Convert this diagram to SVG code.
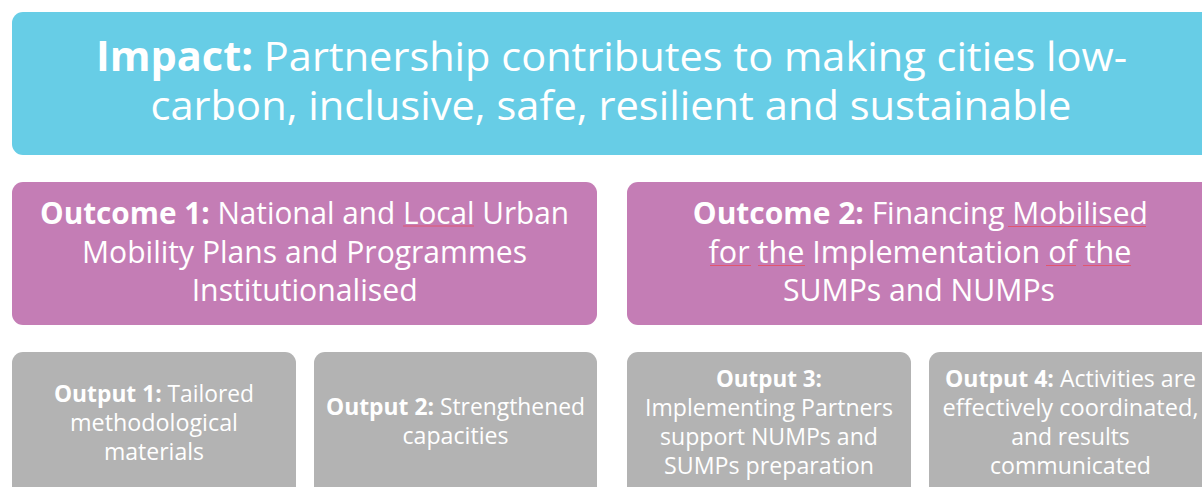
<svg xmlns="http://www.w3.org/2000/svg" width="1202" height="487" viewBox="0 0 1202 487">
<style>
.impact{fill:#67CDE6}
.outcome{fill:#C47DB5}
.output{fill:#B3B3B3}
text{font-family:"Open Sans","Noto Sans","DejaVu Sans",sans-serif;fill:#FFFFFF;text-anchor:middle}
.t1{font-size:41px}
.t2{font-size:31px}
.t3{font-size:23.5px}
.b{font-weight:700}
.sq{stroke:#E2566E;stroke-width:1;fill:none}
</style>
<rect width="1202" height="487" fill="#FFFFFF"/>
<g id="connectors"></g>
<g id="impact">
<rect class="impact" x="12" y="12" width="1200" height="143" rx="11"/>
<text class="t1" x="611.5" y="71" textLength="1031" lengthAdjust="spacingAndGlyphs"><tspan class="b">Impact:</tspan> Partnership contributes to making cities low-</text>
<text class="t1" x="611" y="120" textLength="921" lengthAdjust="spacingAndGlyphs">carbon, inclusive, safe, resilient and sustainable</text>
</g>
<g id="outcome1">
<rect class="outcome" x="12" y="182" width="585" height="143" rx="11"/>
<text class="t2" x="304.5" y="223.5" textLength="529" lengthAdjust="spacingAndGlyphs"><tspan class="b">Outcome 1:</tspan> National and Local Urban</text>
<text class="t2" x="304.5" y="262.5" textLength="445" lengthAdjust="spacingAndGlyphs">Mobility Plans and Programmes</text>
<text class="t2" x="304.7" y="300.5" textLength="226" lengthAdjust="spacingAndGlyphs">Institutionalised</text>
<path class="sq" d="M403 226 H474"/>
</g>
<g id="outcome2">
<rect class="outcome" x="627" y="182" width="586" height="143" rx="11"/>
<text class="t2" x="920.3" y="224" textLength="455" lengthAdjust="spacingAndGlyphs"><tspan class="b">Outcome 2:</tspan> Financing Mobilised</text>
<text class="t2" x="920" y="263" textLength="423" lengthAdjust="spacingAndGlyphs">for the Implementation of the</text>
<text class="t2" x="919" y="300.5" textLength="272" lengthAdjust="spacingAndGlyphs">SUMPs and NUMPs</text>
<path class="sq" d="M1008 226.5 H1146 M710 265.5 H751 M758 265.5 H805 M1046 265.5 H1076 M1083 265.5 H1131"/>
</g>
<g id="output1">
<rect class="output" x="12" y="352" width="284" height="160" rx="11"/>
<text class="t3" x="154" y="401.5" textLength="200" lengthAdjust="spacingAndGlyphs"><tspan class="b">Output 1:</tspan> Tailored</text>
<text class="t3" x="154" y="430.5" textLength="168" lengthAdjust="spacingAndGlyphs">methodological</text>
<text class="t3" x="154" y="459.5" textLength="100" lengthAdjust="spacingAndGlyphs">materials</text>
</g>
<g id="output2">
<rect class="output" x="314" y="352" width="283" height="160" rx="11"/>
<text class="t3" x="455.5" y="415" textLength="259" lengthAdjust="spacingAndGlyphs"><tspan class="b">Output 2:</tspan> Strengthened</text>
<text class="t3" x="455.5" y="444" textLength="106" lengthAdjust="spacingAndGlyphs">capacities</text>
</g>
<g id="output3">
<rect class="output" x="627" y="352" width="284" height="160" rx="11"/>
<text class="t3 b" x="769" y="387" textLength="106" lengthAdjust="spacingAndGlyphs">Output 3:</text>
<text class="t3" x="769" y="416" textLength="248" lengthAdjust="spacingAndGlyphs">Implementing Partners</text>
<text class="t3" x="769" y="445" textLength="218" lengthAdjust="spacingAndGlyphs">support NUMPs and</text>
<text class="t3" x="769" y="474" textLength="210" lengthAdjust="spacingAndGlyphs">SUMPs preparation</text>
</g>
<g id="output4">
<rect class="output" x="929" y="352" width="284" height="160" rx="11"/>
<text class="t3" x="1070.5" y="387" textLength="251" lengthAdjust="spacingAndGlyphs"><tspan class="b">Output 4:</tspan> Activities are</text>
<text class="t3" x="1070.5" y="416" textLength="256" lengthAdjust="spacingAndGlyphs">effectively coordinated,</text>
<text class="t3" x="1070.5" y="445" textLength="118.5" lengthAdjust="spacingAndGlyphs">and results</text>
<text class="t3" x="1070.5" y="474" textLength="161" lengthAdjust="spacingAndGlyphs">communicated</text>
</g>
</svg>
